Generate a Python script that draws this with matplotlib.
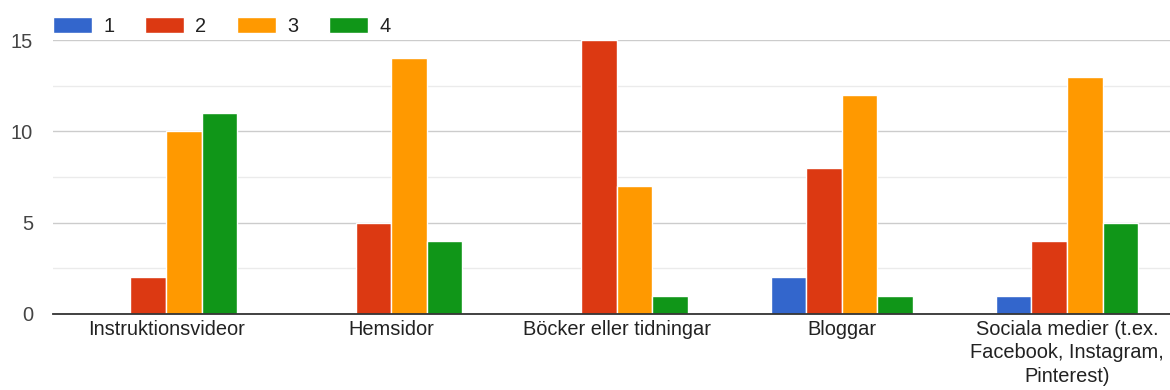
import numpy as np
import matplotlib.pyplot as plt

# data
categories = ['Instruktionsvideor', 'Hemsidor', 'Böcker eller tidningar', 'Bloggar',
              'Sociala medier (t.ex.\nFacebook, Instagram,\nPinterest)']
series_names = ['1', '2', '3', '4']
s1 = [0, 0, 0, 2, 1]
s2 = [2, 5, 15, 8, 4]
s3 = [10, 14, 7, 12, 13]
s4 = [11, 4, 1, 1, 5]
colors = ['#3366cc', '#dc3912', '#ff9900', '#109618']

plt.rcParams['font.family'] = ['Liberation Sans', 'DejaVu Sans']
fs = 14.4

fig = plt.figure(figsize=(11.7, 3.9), dpi=100)
ax = fig.add_axes([0.0453, 0.195, 0.9547, 0.702])

x = np.arange(len(categories))
w = 0.158
for i, vals in enumerate([s1, s2, s3, s4]):
    ax.bar(x + (i - 1.5) * w, vals, w, color=colors[i], edgecolor='white',
           linewidth=1, label=series_names[i], zorder=3)

ax.set_xlim(-0.502, 4.457)
ax.set_ylim(0, 15)
ax.set_yticks([0, 5, 10, 15])
ax.set_yticks([2.5, 7.5, 12.5], minor=True)
ax.grid(axis='y', which='major', color='#cccccc', linewidth=1, zorder=0)
ax.grid(axis='y', which='minor', color='#ebebeb', linewidth=1, zorder=0)
ax.tick_params(axis='y', which='both', length=0, pad=14.4, labelsize=fs, labelcolor='#444444')
ax.set_xticks(x)
ax.set_xticklabels(categories)
ax.tick_params(axis='x', length=0, pad=4, labelsize=fs, labelcolor='#222222')
for lbl in ax.get_xticklabels():
    lbl.set_linespacing(1.3)
for sp in ['top', 'right', 'left']:
    ax.spines[sp].set_visible(False)
ax.spines['bottom'].set_color('#333333')
ax.spines['bottom'].set_linewidth(1.3)
ax.spines['bottom'].set_zorder(4)

ax.legend(loc='center left', bbox_to_anchor=(0.0, 1.051), ncol=4, frameon=False,
          handlelength=1.95, handleheight=0.9, handletextpad=0.55, columnspacing=1.55,
          fontsize=fs, labelcolor='#222222', borderaxespad=0, borderpad=0)

fig.savefig('out.png', dpi=100)
